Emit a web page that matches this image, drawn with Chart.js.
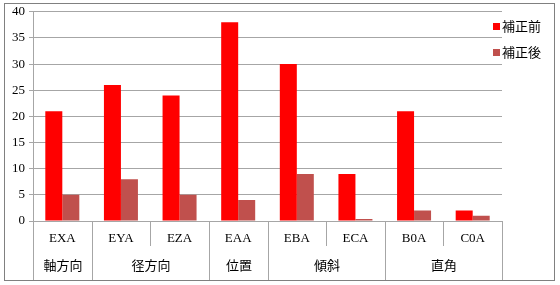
<!DOCTYPE html>
<html lang="ja">
<head>
<meta charset="UTF-8">
<title>補正前・補正後</title>
<script src="https://cdn.jsdelivr.net/npm/chart.js"></script>
<style>
  html, body { margin: 0; padding: 0; background: #fff; }
  #wrap { width: 560px; height: 285px; position: relative; }
</style>
</head>
<body>
<div id="wrap"><canvas id="chart"></canvas></div>
<script>
const categories = ['EXA', 'EYA', 'EZA', 'EAA', 'EBA', 'ECA', 'B0A', 'C0A'];
const groups = ['軸方向', '径方向', '位置', '傾斜', '直角'];
const groupSizes = [1, 2, 1, 2, 2];
const seriesNames = ['補正前', '補正後'];
const beforeValues = [21, 26, 24, 38, 30, 9, 21, 2];
const afterValues = [5, 8, 5, 4, 9, 0.4, 2, 1];
const yTicks = [0, 5, 10, 15, 20, 25, 30, 35, 40];

const GRID = '#a6a6a6';
const SERIF = "'Liberation Serif', 'DejaVu Serif', serif";
const GOTHIC = "'Noto Sans CJK JP', 'Noto Sans', sans-serif";

// frame, category separators, group row and legend
const decorations = {
  id: 'decorations',
  afterDraw(chart) {
    const ctx = chart.ctx;
    const x = chart.scales.x;
    const area = chart.chartArea;
    const edge = i => Math.round(x.getPixelForValue(i - 0.5)) + 0.5;
    const bottom = 280;

    ctx.save();
    ctx.lineWidth = 1;
    ctx.strokeStyle = GRID;

    // group boundaries go down to the frame, others stop under the labels
    const full = [0];
    groupSizes.reduce((acc, n) => { full.push(acc + n); return acc + n; }, 0);
    for (let i = 0; i <= categories.length; i++) {
      const px = edge(i);
      const isFull = full.includes(i);
      ctx.beginPath();
      ctx.moveTo(px, area.bottom);
      ctx.lineTo(px, isFull ? bottom : area.bottom + 25);
      ctx.stroke();
    }

    // group labels
    ctx.fillStyle = '#000';
    ctx.font = '13px ' + GOTHIC;
    ctx.textAlign = 'center';
    ctx.textBaseline = 'middle';
    groups.forEach((g, k) => {
      const cx = (edge(full[k]) + edge(full[k + 1])) / 2;
      ctx.fillText(g, cx, 265);
    });

    // legend
    ctx.textAlign = 'left';
    chart.data.datasets.forEach((ds, i) => {
      const ly = 26 + i * 26;
      ctx.fillStyle = ds.backgroundColor;
      ctx.fillRect(493, ly - 3, 7, 7);
      ctx.fillStyle = '#000';
      ctx.fillText(ds.label, 502, ly);
    });

    // outer frame
    ctx.strokeStyle = '#808080';
    ctx.strokeRect(4.5, 3.5, 550, 277);
    ctx.restore();
  }
};

new Chart(document.getElementById('chart'), {
  type: 'bar',
  data: {
    labels: categories,
    datasets: [
      { label: seriesNames[0], data: beforeValues, backgroundColor: '#ff0000' },
      { label: seriesNames[1], data: afterValues, backgroundColor: '#c0504d' }
    ]
  },
  options: {
    responsive: true,
    maintainAspectRatio: false,
    animation: false,
    layout: { padding: { left: 4, right: 58, top: 11, bottom: 5 } },
    datasets: {
      bar: { categoryPercentage: 0.58, barPercentage: 1.0 }
    },
    plugins: {
      legend: { display: false },
      tooltip: { enabled: false }
    },
    scales: {
      x: {
        offset: true,
        afterFit: s => { s.height = 59; },
        grid: { display: true, drawOnChartArea: false, drawTicks: false, color: GRID },
        border: { display: false },
        ticks: { color: '#000', padding: 10, font: { family: SERIF, size: 13 } }
      },
      y: {
        min: 0,
        max: 40,
        afterFit: s => { s.width = 29; },
        afterBuildTicks: s => { s.ticks = yTicks.map(v => ({ value: v })); },
        grid: { color: GRID, tickLength: 4 },
        border: { display: true, color: GRID },
        ticks: { color: '#000', padding: 4, font: { family: SERIF, size: 13 } }
      }
    }
  },
  plugins: [decorations]
});
</script>
</body>
</html>
